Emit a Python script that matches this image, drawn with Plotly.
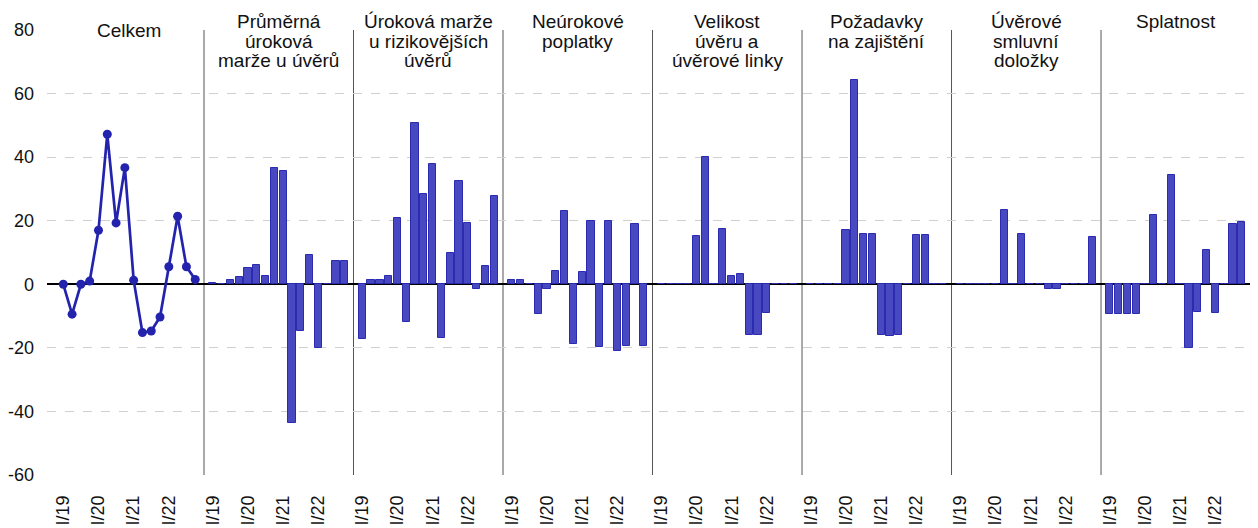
import plotly.graph_objects as go

quarters = [f"{q}/{y}" for y in ["19", "20", "21", "22"] for q in ["I", "II", "III", "IV"]]
tick_labels = ["I/19", "I/20", "I/21", "I/22"]
y_ticks = [-60, -40, -20, 0, 20, 40, 60, 80]
y_tick_labels = ["-60", "-40", "-20", "0", "20", "40", "60", "80"]

panel_titles = [
    ["Celkem"],
    ["Průměrná", "úroková", "marže u úvěrů"],
    ["Úroková marže", "u rizikovějších", "úvěrů"],
    ["Neúrokové", "poplatky"],
    ["Velikost", "úvěru a", "úvěrové linky"],
    ["Požadavky", "na zajištění"],
    ["Úvěrové", "smluvní", "doložky"],
    ["Splatnost"],
]

celkem = [0, -9.4, 0, 1, 17.0, 47.2, 19.3, 36.7, 1.3, -15.2, -14.7, -10.3, 5.5, 21.4, 5.5, 1.5]
prumerna_marze = [0.3, 0, 1.5, 2.4, 5.1, 6.2, 2.5, 36.6, 35.7, -43.7, -14.7, 9.3, -20.0, 0, 7.4, 7.4]
rizikovejsi_marze = [-17.1, 1.5, 1.5, 2.5, 20.9, -12.0, 50.7, 28.3, 37.7, -16.9, 9.9, 32.6, 19.3, -1.5, 5.8, 27.9]
neurokove_poplatky = [1.5, 1.5, 0, -9.4, -1.5, 4.2, 23.0, -18.7, 3.9, 19.8, -19.7, 19.8, -21.1, -19.4, 19.0, -19.5]
velikost_uveru = [0, 0, 0, 0, 15.3, 40.1, 0, 17.5, 2.5, 3.2, -15.8, -15.8, -9.1, 0, 0, 0]
pozadavky_zajisteni = [0, 0, 0, 0, 17.0, 64.4, 15.7, 15.7, -15.8, -16.4, -15.8, 0, 15.6, 15.6, 0, 0]
smluvni_dolozky = [0, 0, 0, 0, 0, 23.5, 0, 15.7, 0, 0, -1.5, -1.5, 0, 0, 0, 15.0]
splatnost = [-9.4, -9.4, -9.4, -9.4, 0, 21.9, 0, 34.5, 0, -20.0, -8.6, 10.9, -9.1, 0, 19.0, 19.6]

bar_series = [prumerna_marze, rizikovejsi_marze, neurokove_poplatky, velikost_uveru,
              pozadavky_zajisteni, smluvni_dolozky, splatnost]

SLOTS = 17  # 16 quarters + 1 gap per panel


def xpos(panel):
    return [panel * SLOTS + 1 + k for k in range(len(quarters))]


fig = go.Figure()

LINE_COL = "#2323ad"
BAR_FILL = "#4848c0"
BAR_EDGE = "#2b2bb2"

fig.add_trace(go.Scatter(
    x=xpos(0), y=celkem, mode="lines+markers",
    line=dict(color=LINE_COL, width=2.7),
    marker=dict(color=LINE_COL, size=9),
    text=quarters, showlegend=False, cliponaxis=False,
))

for i, vals in enumerate(bar_series):
    fig.add_trace(go.Bar(
        x=xpos(i + 1), y=vals, width=0.82,
        marker=dict(color=BAR_FILL, line=dict(color=BAR_EDGE, width=1)),
        text=quarters, textposition="none", showlegend=False,
    ))

# panel separators
for p in range(1, 8):
    fig.add_shape(type="line", xref="x", yref="paper", x0=p * SLOTS, x1=p * SLOTS, y0=0, y1=1,
                  line=dict(color="#555555", width=1), layer="below")

# panel titles (one annotation per line for tight line spacing)
PLOT_TOP, PLOT_BOT = 22.0, 467.0  # px inside figure div


def paper_y(px):
    return (PLOT_BOT - px) / (PLOT_BOT - PLOT_TOP)


for p, lines in enumerate(panel_titles):
    if p == 0:
        ys = [23.0]
    else:
        ys = [14.0 + 19.0 * j for j in range(len(lines))]
    for line, ypx in zip(lines, ys):
        fig.add_annotation(x=p * SLOTS + 8.5, y=paper_y(ypx), xref="x", yref="paper", text=line,
                           showarrow=False, font=dict(size=19, color="#111111"),
                           yanchor="middle", xanchor="center")

tickvals = []
ticktext = []
for p in range(8):
    for k, lab in zip([0, 4, 8, 12], tick_labels):
        tickvals.append(p * SLOTS + 1 + k)
        ticktext.append(lab)

fig.update_layout(
    width=1250, height=520,
    margin=dict(l=39, r=0, t=22, b=53, autoexpand=False),
    plot_bgcolor="white", paper_bgcolor="white",
    font=dict(family="Liberation Sans, Arial, sans-serif", size=18, color="#111111"),
    bargap=0,
    xaxis=dict(range=[-0.853, 136.85], tickvals=tickvals, ticktext=ticktext, tickangle=-90,
               showgrid=False, zeroline=False, showline=False, ticks="", automargin=False,
               ticklabelstandoff=16, tickfont=dict(size=18)),
    yaxis=dict(range=[-60, 80], tickvals=y_ticks, ticktext=y_tick_labels, showgrid=True,
               gridcolor="#d0d0d0", griddash="dash",
               gridwidth=1, zeroline=True, zerolinecolor="#000000", zerolinewidth=2,
               showline=False, ticks="", automargin=False, ticklabelstandoff=12,
               tickfont=dict(size=18)),
)

fig.write_html("out.html")
